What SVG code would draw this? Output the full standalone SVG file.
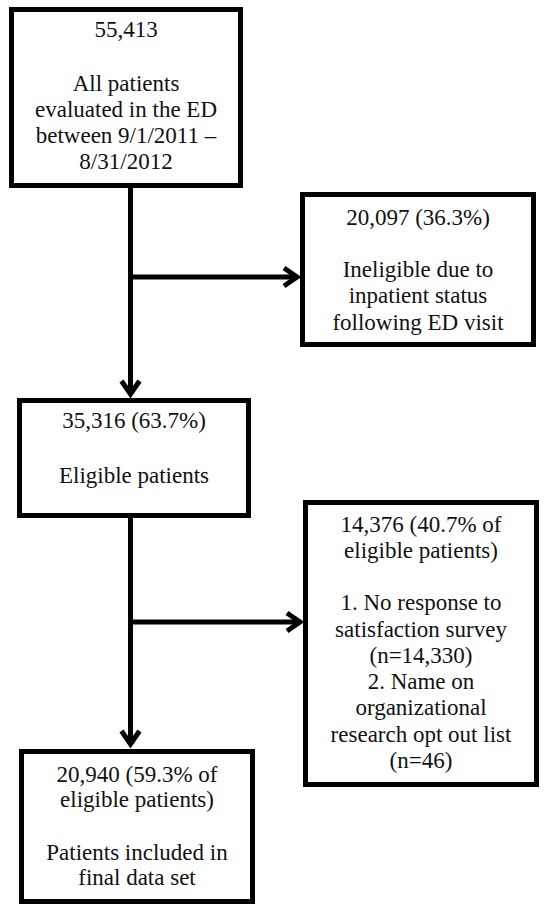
<svg xmlns="http://www.w3.org/2000/svg" width="544" height="910" viewBox="0 0 544 910">
<style>
.box{fill:#fff;stroke:#000;stroke-width:5}
.t{font-family:'Liberation Serif','DejaVu Serif','Times New Roman',Times,serif;font-size:23px;fill:#111;text-anchor:middle}
.ln{stroke:#000;stroke-width:5;fill:none}
.ah{stroke:#000;stroke-width:5;fill:none;stroke-linejoin:miter}
</style>
<rect width="544" height="910" fill="#fff"/>
<g id="connectors">
<line class="ln" x1="130.5" y1="186" x2="130.5" y2="394"/>
<line class="ln" x1="130.5" y1="277" x2="297" y2="277"/>
<path class="ah" d="M284,268 L297,277 L284,286"/>
<path class="ah" d="M121.5,381 L130.5,394 L139.5,381"/>
<line class="ln" x1="130.5" y1="516" x2="130.5" y2="744"/>
<line class="ln" x1="130.5" y1="622" x2="300" y2="622"/>
<path class="ah" d="M287,613 L300,622 L287,631"/>
<path class="ah" d="M121.5,731 L130.5,744 L139.5,731"/>
</g>
<g id="n1">
<rect class="box" x="11.5" y="9.5" width="229" height="176"/>
<text class="t" x="126" y="37" style="font-family:'Liberation Serif',serif">55,413</text>
<text class="t" x="126" y="91">All patients</text>
<text class="t" x="126" y="117">evaluated in the ED</text>
<text class="t" x="126" y="143">between 9/1/2011 –</text>
<text class="t" x="126" y="169">8/31/2012</text>
</g>
<g id="n2">
<rect class="box" x="302.5" y="194.5" width="231" height="150"/>
<text class="t" x="418" y="225">20,097 (36.3%)</text>
<text class="t" x="418" y="277">Ineligible due to</text>
<text class="t" x="418" y="303">inpatient status</text>
<text class="t" x="418" y="330">following ED visit</text>
</g>
<g id="n3">
<rect class="box" x="19.5" y="400.5" width="229" height="115"/>
<text class="t" x="134" y="428">35,316 (63.7%)</text>
<text class="t" x="134" y="483">Eligible patients</text>
</g>
<g id="n4">
<rect class="box" x="305.5" y="502.5" width="231" height="282"/>
<text class="t" x="421" y="532">14,376 (40.7% of</text>
<text class="t" x="421" y="558">eligible patients)</text>
<text class="t" x="421" y="610">1. No response to</text>
<text class="t" x="421" y="637">satisfaction survey</text>
<text class="t" x="421" y="663">(n=14,330)</text>
<text class="t" x="421" y="689">2. Name on</text>
<text class="t" x="421" y="715">organizational</text>
<text class="t" x="421" y="742">research opt out list</text>
<text class="t" x="421" y="768">(n=46)</text>
</g>
<g id="n5">
<rect class="box" x="21.5" y="751.5" width="231" height="150"/>
<text class="t" x="137" y="782">20,940 (59.3% of</text>
<text class="t" x="137" y="807">eligible patients)</text>
<text class="t" x="137" y="860">Patients included in</text>
<text class="t" x="137" y="885">final data set</text>
</g>
</svg>
